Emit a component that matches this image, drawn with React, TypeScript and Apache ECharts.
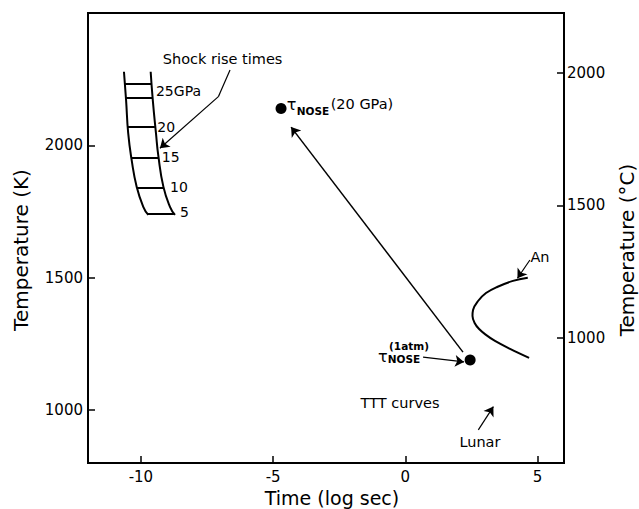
import React, { useEffect, useRef } from "react";
import * as echarts from "echarts";

// ---- axes ----
const xTicks = [-10, -5, 0, 5];
const kTicks = [1000, 1500, 2000];
const cTicks = [1000, 1500, 2000];

// ---- shock rise time band (log sec, K) ----
const bandLeft = [
  [-10.64, 2278], [-10.56, 2171], [-10.48, 2046], [-10.35, 1945],
  [-10.16, 1844], [-9.91, 1768], [-9.72, 1737],
];
const bandRight = [
  [-9.63, 2278], [-9.55, 2171], [-9.43, 2046], [-9.34, 1960],
  [-9.15, 1844], [-8.9, 1768], [-8.71, 1737],
];
// pressure rungs: [xLeft, xRight, T]
const rungs = [
  [-10.6, -9.6, 2231],
  [-10.56, -9.56, 2180],
  [-10.51, -9.47, 2069],
  [-10.37, -9.35, 1954],
  [-10.15, -9.15, 1841],
  [-9.77, -8.75, 1741],
];
const pressureLabels = ["25GPa", "20", "15", "10", "5"];
const pressureLabelPos = [
  [-9.43, 2205], [-9.38, 2069], [-9.21, 1956], [-8.9, 1843], [-8.52, 1748],
];

// ---- TTT curve (An) ----
const anCurve = [
  [4.63, 1500], [4.07, 1488], [3.47, 1465], [3.05, 1442], [2.75, 1412],
  [2.56, 1378], [2.54, 1355], [2.62, 1329], [2.79, 1306], [3.05, 1284],
  [3.39, 1261], [3.96, 1231], [4.68, 1197],
];

// ---- nose points ----
const nosePoints = [
  [-4.7, 2139], // tau_nose (20 GPa)
  [2.45, 1189], // tau_nose (1 atm)
];

// ---- arrows (last segment carries the head) ----
const mainArrow = [[2.18, 1219], [-4.32, 2069]];
const shockArrowTail = [[-6.63, 2285], [-7.07, 2184]];
const shockArrow = [[-7.07, 2184], [-9.28, 1989]];
const anArrow = [[4.71, 1567], [4.24, 1498]];
const lunarArrow = [[2.76, 925], [3.33, 1013]];
const atmArrow = [[0.67, 1200], [2.22, 1182]];

// ---- text annotations ----
const textItems = [
  { t: "Shock rise times", p: [-6.91, 2326], k: "main" },
  { t: "τ", p: [-4.3, 2156], k: "tau" },
  { t: "NOSE", p: [-3.49, 2130], k: "sub" },
  { t: "(20 GPa)", p: [-1.64, 2158], k: "gpa" },
  { t: "τ", p: [-0.85, 1204], k: "tau" },
  { t: "NOSE", p: [-0.05, 1193], k: "sub" },
  { t: "(1atm)", p: [0.14, 1242], k: "sub" },
  { t: "TTT curves", p: [-0.2, 1027], k: "main" },
  { t: "An", p: [5.09, 1578], k: "main" },
  { t: "Lunar", p: [2.82, 879], k: "main" },
];

const FONT = "DejaVu Sans";

export default function App() {
  const ref = useRef<HTMLDivElement>(null);
  useEffect(() => {
    if (!ref.current) return;
    const chart = echarts.init(ref.current, null, { renderer: "svg" });
    const black = "#000";
    const styles: any = {
      main: { fontSize: 14.5 },
      tau: { fontSize: 16 },
      sub: { fontSize: 10.5, fontWeight: "bold" },
      gpa: { fontSize: 14.5 },
    };
    const arrowSeries = (coords: number[][], width: number, head: boolean) => ({
      type: "lines",
      coordinateSystem: "cartesian2d",
      symbol: head ? ["none", "arrow"] : ["none", "none"],
      symbolSize: [0, 9],
      silent: true,
      lineStyle: { color: black, width, opacity: 1, curveness: 0 },
      itemStyle: { color: black },
      data: [{ coords }],
    });
    const fmt = (v: number) => String(v);
    chart.setOption({
      animation: false,
      backgroundColor: "#fff",
      textStyle: { fontFamily: FONT, color: black },
      grid: {
        left: 88, right: 75, top: 13, bottom: 46,
        outerBoundsMode: "none", containLabel: false,
        show: true, borderColor: black, borderWidth: 2,
      },
      xAxis: {
        type: "value", min: -12, max: 6,
        name: "Time (log sec)", nameLocation: "middle", nameGap: 21,
        nameTextStyle: { fontSize: 19, color: black, fontFamily: FONT, padding: [0, 0, 0, 12] },
        axisLine: { show: true, onZero: false, lineStyle: { color: black, width: 2 } },
        axisTick: { show: true, inside: true, length: 7, lineStyle: { color: black, width: 1.5 }, customValues: xTicks },
        axisLabel: { color: black, fontSize: 15, fontFamily: FONT, margin: 6, customValues: xTicks, formatter: fmt },
        splitLine: { show: false },
      },
      yAxis: [
        {
          type: "value", min: 800, max: 2500,
          name: "Temperature (K)", nameLocation: "middle", nameRotate: 90, nameGap: 57,
          nameTextStyle: { fontSize: 20, color: black, fontFamily: FONT, padding: [0, 24, 0, 0] },
          axisLine: { show: true, onZero: false, lineStyle: { color: black, width: 2 } },
          axisTick: { show: true, inside: true, length: 7, lineStyle: { color: black, width: 1.5 }, customValues: kTicks },
          axisLabel: { color: black, fontSize: 15, fontFamily: FONT, margin: 5, customValues: kTicks, formatter: fmt },
          splitLine: { show: false },
        },
        {
          type: "value", min: 526.85, max: 2226.85, position: "right",
          name: "Temperature (°C)", nameLocation: "middle", nameRotate: 90, nameGap: 53,
          nameTextStyle: { fontSize: 20, color: black, fontFamily: FONT, padding: [0, 24, 0, 0] },
          axisLine: { show: true, onZero: false, lineStyle: { color: black, width: 2 } },
          axisTick: { show: true, inside: true, length: 7, lineStyle: { color: black, width: 1.5 }, customValues: cTicks },
          axisLabel: { color: black, fontSize: 15, fontFamily: FONT, margin: 3, customValues: cTicks, formatter: fmt },
          splitLine: { show: false },
        },
      ],
      series: [
        {
          type: "line", data: bandLeft, smooth: true, symbol: "none",
          lineStyle: { color: black, width: 2 },
        },
        {
          type: "line", data: bandRight, smooth: true, symbol: "none",
          lineStyle: { color: black, width: 2 },
        },
        {
          type: "lines", coordinateSystem: "cartesian2d", silent: true,
          lineStyle: { color: black, width: 2, opacity: 1 },
          data: rungs.map((r) => ({ coords: [[r[0], r[2]], [r[1], r[2]]] })),
        },
        {
          type: "line", data: anCurve, smooth: 0.4, symbol: "none",
          lineStyle: { color: black, width: 2 },
        },
        arrowSeries(mainArrow, 1.5, true),
        arrowSeries(shockArrowTail, 1.2, false),
        arrowSeries(shockArrow, 1.2, true),
        arrowSeries(anArrow, 1.2, true),
        arrowSeries(lunarArrow, 1.2, true),
        arrowSeries(atmArrow, 1.2, true),
        {
          type: "scatter", data: nosePoints, symbolSize: 11,
          itemStyle: { color: black, opacity: 1 },
        },
        {
          type: "scatter", symbolSize: 0, silent: true,
          itemStyle: { opacity: 1 },
          data: pressureLabels.map((t, i) => ({
            value: pressureLabelPos[i], name: t,
          })),
          label: {
            show: true, position: "inside", align: "left", verticalAlign: "middle", opacity: 1,
            formatter: (p: any) => p.name, color: black, fontSize: 14, fontFamily: FONT,
          },
        },
        {
          type: "scatter", symbolSize: 0, silent: true,
          itemStyle: { opacity: 1 },
          data: textItems.map((d) => ({
            value: d.p, name: d.t,
            label: { ...styles[d.k] },
          })),
          label: {
            show: true, position: "inside", align: "center", verticalAlign: "middle", opacity: 1,
            formatter: (p: any) => p.name, color: black, fontFamily: FONT,
          },
        },
      ],
    });
    return () => chart.dispose();
  }, []);
  return (
    <div
      ref={ref}
      style={{ position: "fixed", left: 0, top: 0, width: 639, height: 509, background: "#fff" }}
    />
  );
}
